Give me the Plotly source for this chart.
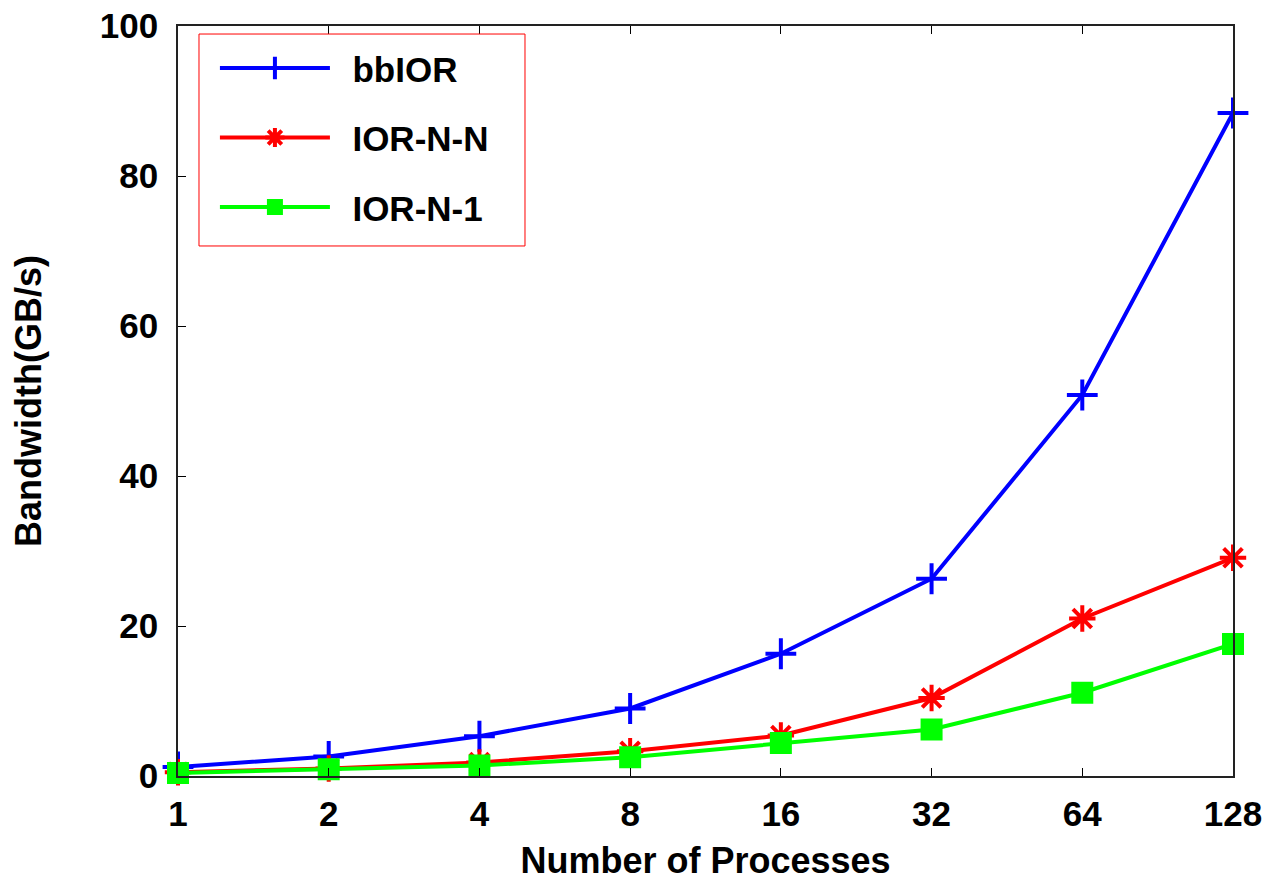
import plotly.graph_objects as go

processes = [1, 2, 4, 8, 16, 32, 64, 128]
bbior = [1.2, 2.6, 5.3, 9.0, 16.3, 26.3, 50.8, 88.4]
ior_nn = [0.5, 1.0, 1.8, 3.3, 5.4, 10.4, 21.0, 29.1]
ior_n1 = [0.4, 0.9, 1.4, 2.5, 4.4, 6.2, 11.1, 17.6]
series_names = ["bbIOR", "IOR-N-N", "IOR-N-1"]
x_ticks = ["1", "2", "4", "8", "16", "32", "64", "128"]
y_ticks = [0, 20, 40, 60, 80, 100]

FONT = "Liberation Sans, Arial, Helvetica, sans-serif"
PAD = "\u2002"  # gap between legend key and label

fig = go.Figure()
fig.add_trace(go.Scatter(
    x=processes, y=bbior, name=PAD + series_names[0], mode="lines+markers", legendgroup="a",
    line=dict(color="#0000ff", width=4),
    marker=dict(symbol="cross-thin-open", size=22, color="#0000ff",
                line=dict(color="#0000ff", width=4)),
    cliponaxis=False,
))
fig.add_trace(go.Scatter(
    x=processes, y=ior_nn, name=PAD + series_names[1], mode="lines+markers", legendgroup="b",
    line=dict(color="#ff0000", width=4),
    marker=dict(symbol="asterisk-open", size=22, color="#ff0000",
                line=dict(color="#ff0000", width=4)),
    cliponaxis=False,
))
fig.add_trace(go.Scatter(
    x=processes, y=ior_n1, name=PAD + series_names[2], mode="lines+markers", legendgroup="c",
    line=dict(color="#00ff00", width=4),
    marker=dict(symbol="square", size=22, color="#00ff00"),
    cliponaxis=False,
))

# legend frame (red box)
fig.add_shape(type="rect", xref="paper", yref="paper",
              x0=0.0199, x1=0.3289, y0=0.7067, y1=0.9893,
              line=dict(color="#ff0000", width=1), fillcolor="rgba(0,0,0,0)",
              layer="above")

fig.update_layout(
    width=1263, height=873,
    margin=dict(l=170, r=38, t=18, b=105, pad=0, autoexpand=False),
    paper_bgcolor="white", plot_bgcolor="white",
    font=dict(family=FONT, size=35, color="black", weight="bold"),
    showlegend=True,
    legend=dict(
        x=0.035, y=0.983, xanchor="left", yanchor="top",
        bgcolor="rgba(0,0,0,0)", borderwidth=0,
        font=dict(family=FONT, size=35, color="black", weight="bold"),
        tracegroupgap=21, itemwidth=110,
    ),
    xaxis=dict(
        type="log", range=[0, 2.10721], tickmode="array",
        tickvals=processes, ticktext=x_ticks, automargin=False,
        ticks="inside", ticklen=8, tickcolor="black", tickwidth=1,
        showline=True, linecolor="#222222", linewidth=1.5, mirror="allticks",
        showgrid=False, zeroline=False, ticklabelstandoff=6,
        tickfont=dict(family=FONT, size=35, color="black", weight="bold"),
        title=dict(text="Number of Processes", standoff=33,
                   font=dict(family=FONT, size=36, color="black", weight="bold")),
    ),
    yaxis=dict(
        range=[0, 100], tickmode="array", tickvals=y_ticks, automargin=False,
        ticks="inside", ticklen=8, tickcolor="black", tickwidth=1,
        showline=True, linecolor="#222222", linewidth=1.5, mirror=True,
        showgrid=False, zeroline=False, ticklabelstandoff=11,
        ticklabeloverflow="allow",
        tickfont=dict(family=FONT, size=35, color="black", weight="bold"),
        title=dict(text="Bandwidth(GB/s)", standoff=64,
                   font=dict(family=FONT, size=36, color="black", weight="bold")),
    ),
)

fig.write_html("out.html")
